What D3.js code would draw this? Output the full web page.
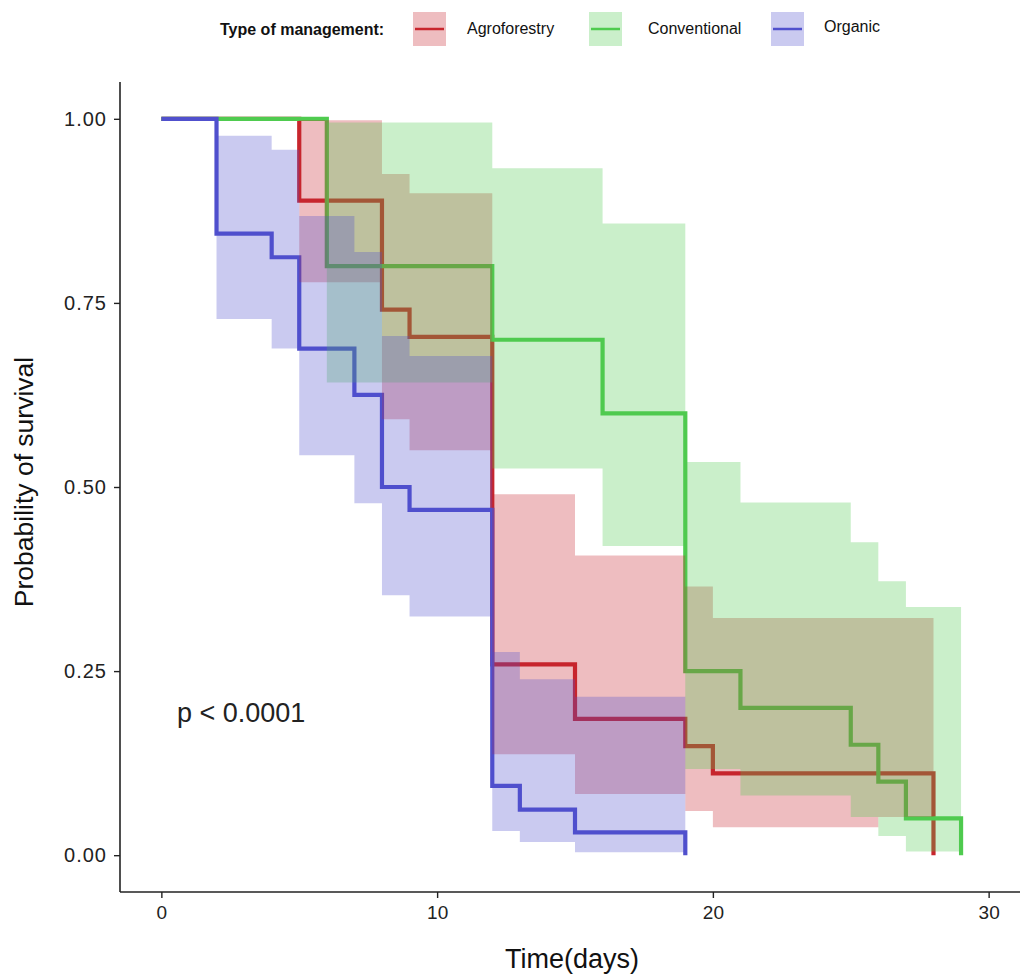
<!DOCTYPE html>
<html><head>
<meta charset="utf-8">
<title>Survival by type of management</title>
<script src="https://d3js.org/d3.v7.min.js"></script>
<style>
  body { margin: 0; background: #fff; }
  text { font-family: "Liberation Sans", Arial, sans-serif; }
  .tick text { fill: #222; }
</style>
</head>
<body>
<svg id="chart" width="1020" height="974"></svg>

<script>
// ---- data ----
const groups = ["Agroforestry", "Conventional", "Organic"];
const colors = ["#c8262d", "#4fcb4f", "#5050cd"];

// Kaplan-Meier steps (time in days, survival probability)
const agroTime = [0, 5, 8, 9, 12, 15, 19, 20, 28];
const agroSurv = [1, 0.889, 0.741, 0.704, 0.259, 0.185, 0.148, 0.111, 0];
const convTime = [0, 6, 12, 16, 19, 21, 25, 26, 27, 29];
const convSurv = [1, 0.8, 0.7, 0.6, 0.25, 0.2, 0.15, 0.1, 0.05, 0];
const orgTime = [0, 2, 4, 5, 7, 8, 9, 12, 13, 15, 19];
const orgSurv = [1, 0.844, 0.812, 0.688, 0.625, 0.5, 0.469, 0.094, 0.062, 0.031, 0];

// confidence bands (step starts, last entry closes the band)
const agroCiTime = [5, 8, 9, 12, 15, 19, 20, 26, 28];
const agroCiUpper = [0.998, 0.925, 0.899, 0.49, 0.407, 0.365, 0.322, 0.322];
const agroCiLower = [0.778, 0.592, 0.55, 0.137, 0.083, 0.06, 0.038, 0.052];
const convCiTime = [6, 12, 16, 19, 21, 25, 26, 27, 29];
const convCiUpper = [0.995, 0.933, 0.858, 0.534, 0.479, 0.425, 0.372, 0.337];
const convCiLower = [0.642, 0.525, 0.42, 0.117, 0.081, 0.052, 0.026, 0.005];
const orgCiTime = [2, 4, 5, 7, 8, 9, 12, 13, 15, 19];
const orgCiUpper = [0.977, 0.958, 0.868, 0.819, 0.705, 0.678, 0.276, 0.239, 0.215];
const orgCiLower = [0.728, 0.688, 0.543, 0.478, 0.353, 0.324, 0.033, 0.018, 0.004];

const xTicks = [0, 10, 20, 30];
const yTicks = [0, 0.25, 0.5, 0.75, 1];
const pText = "p < 0.0001";

// ---- build series ----
const curves = [
  {time: agroTime, surv: agroSurv, ciT: agroCiTime, up: agroCiUpper, lo: agroCiLower},
  {time: convTime, surv: convSurv, ciT: convCiTime, up: convCiUpper, lo: convCiLower},
  {time: orgTime, surv: orgSurv, ciT: orgCiTime, up: orgCiUpper, lo: orgCiLower}
];

const svg = d3.select("#chart");
const x = d3.scaleLinear().domain([-1.5, 31.5]).range([120, 1030]);
const y = d3.scaleLinear().domain([-0.05, 1.05]).range([892, 82]);

const plot = svg.append("g");

const line = d3.line().curve(d3.curveStepAfter).x(d => x(d[0])).y(d => y(d[1]));
const area = d3.area().curve(d3.curveStepAfter)
  .x(d => x(d[0])).y0(d => y(d[1])).y1(d => y(d[2]));

// step lines first, ribbons on top (as in the original)
curves.forEach((c, i) => {
  const pts = c.time.map((t, j) => [t, c.surv[j]]);
  plot.append("path").attr("d", line(pts))
    .attr("fill", "none").attr("stroke", colors[i]).attr("stroke-width", 4.2);
});
curves.forEach((c, i) => {
  const n = c.up.length;
  const pts = c.ciT.map((t, j) => [t, c.lo[Math.min(j, n - 1)], c.up[Math.min(j, n - 1)]]);
  plot.append("path").attr("d", area(pts))
    .attr("fill", colors[i]).attr("fill-opacity", 0.3);
});

// ---- axes ----
const xAxis = svg.append("g").attr("transform", "translate(0,892)")
  .call(d3.axisBottom(x).tickValues(xTicks).tickSize(6).tickPadding(8).tickFormat(d3.format("d")));
const yAxis = svg.append("g").attr("transform", "translate(120,0)")
  .call(d3.axisLeft(y).tickValues(yTicks).tickSize(6).tickPadding(7).tickFormat(d3.format(".2f")));
[xAxis, yAxis].forEach(a => {
  a.select(".domain").attr("stroke", "#222").attr("stroke-width", 1.6);
  a.selectAll(".tick line").attr("stroke", "#222").attr("stroke-width", 1.4);
  a.selectAll(".tick text").style("font-family", "'Liberation Sans', Arial, sans-serif");
});
xAxis.selectAll(".tick text").style("font-size", "19px");
yAxis.selectAll(".tick text").style("font-size", "20px").style("letter-spacing", "1px");
yAxis.select(".domain").attr("d", "M-0,82V892");
xAxis.select(".domain").attr("d", "M120,0H1030");

svg.append("text").attr("x", 572).attr("y", 968).attr("text-anchor", "middle")
  .attr("font-size", 27).attr("fill", "#111").text("Time(days)");
svg.append("text").attr("transform", "translate(33,482) rotate(-90)")
  .attr("text-anchor", "middle").attr("font-size", 26.5).attr("fill", "#111")
  .text("Probability of survival");

svg.append("text").attr("x", 177).attr("y", 722).attr("font-size", 27)
  .attr("fill", "#222").text(pText);

// ---- legend ----
const legend = svg.append("g");
legend.append("text").attr("x", 220).attr("y", 35).attr("font-size", 16)
  .attr("font-weight", "bold").attr("fill", "#111").text("Type of management:");
const keyX = [413, 589, 771];
const labX = [467, 648, 824];
const labY = [34, 34, 32];
groups.forEach((g, i) => {
  legend.append("rect").attr("x", keyX[i]).attr("y", 12).attr("width", 33).attr("height", 34)
    .attr("fill", colors[i]).attr("fill-opacity", 0.3);
  legend.append("line").attr("x1", keyX[i] + 2).attr("x2", keyX[i] + 31)
    .attr("y1", 29).attr("y2", 29).attr("stroke", colors[i]).attr("stroke-width", 2.5);
  legend.append("text").attr("x", labX[i]).attr("y", labY[i]).attr("font-size", 16)
    .attr("fill", "#111").text(g);
});
</script>
</body>
</html>
